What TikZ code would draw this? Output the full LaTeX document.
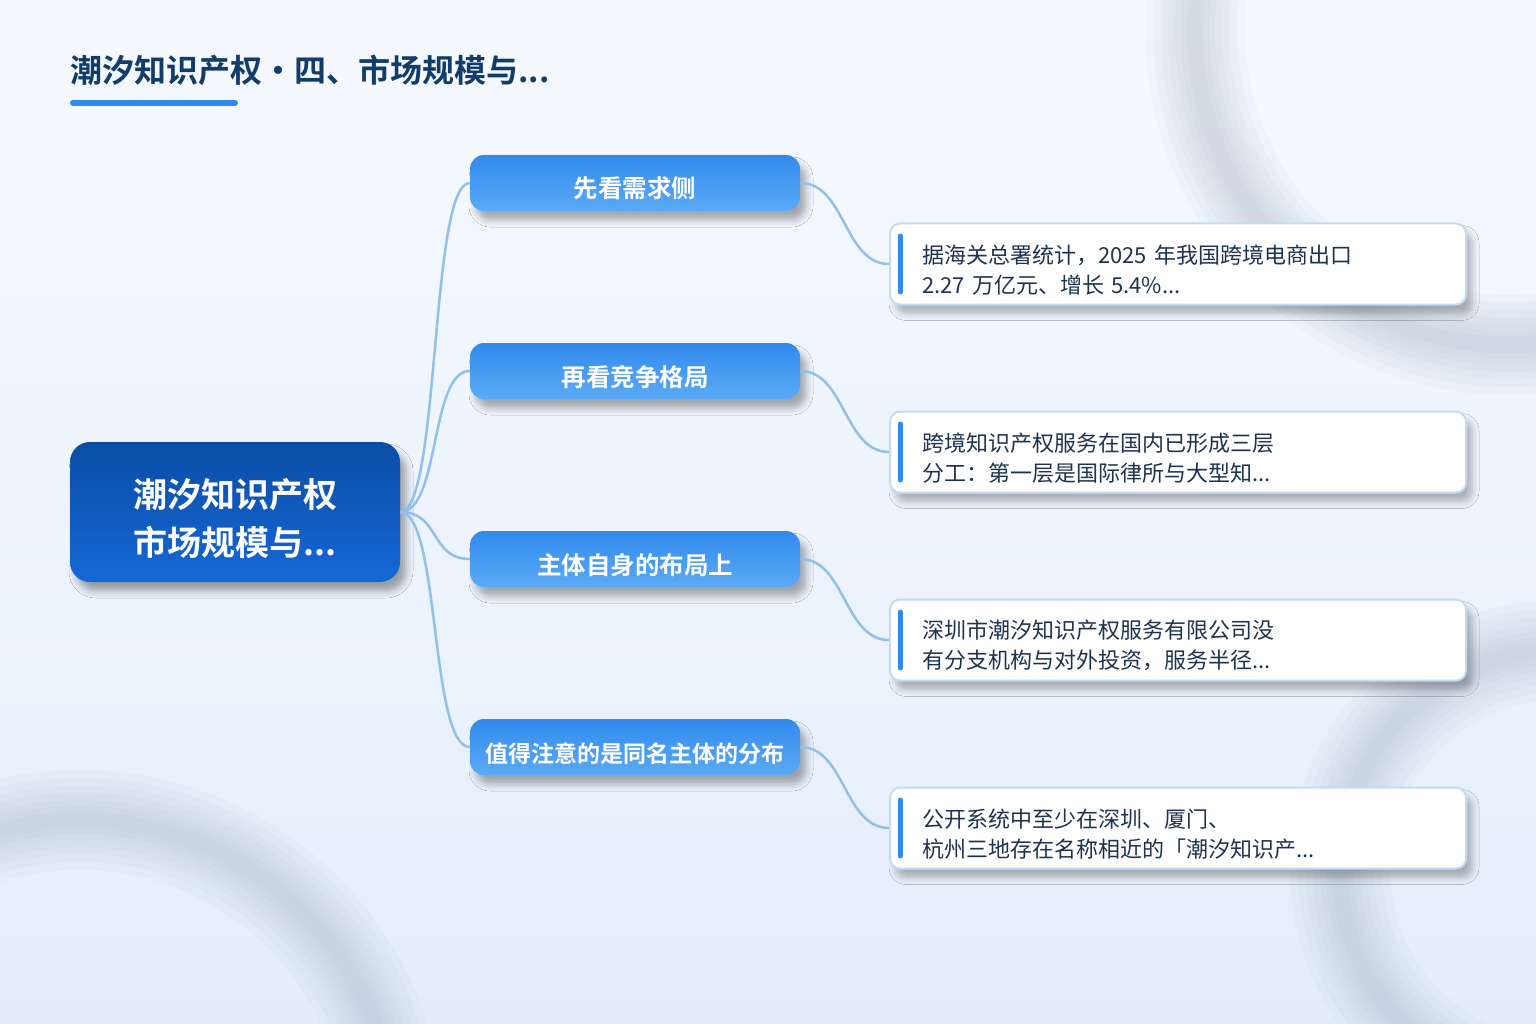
\documentclass[tikz,border=0pt]{standalone}
\usepackage{fontspec}
\setmainfont{Noto Sans CJK SC}[BoldFont={* Bold}]
\usepackage{tikz}
\usetikzlibrary{positioning,shadows.blur}

\definecolor{bgtop}{HTML}{F6FAFF}
\definecolor{bgbot}{HTML}{E4EEFB}
\definecolor{ringgray}{HTML}{9AA8BA}
\definecolor{titleblue}{HTML}{123D6B}
\definecolor{accentblue}{HTML}{2F8BEF}
\definecolor{roottop}{HTML}{0B4DA5}
\definecolor{rootbot}{HTML}{1568D6}
\definecolor{branchtop}{HTML}{318AEC}
\definecolor{branchbot}{HTML}{5BAAF6}
\definecolor{leafedge}{HTML}{C4DCF3}
\definecolor{leaftext}{HTML}{1E3350}
\definecolor{linkblue}{HTML}{93C0EA}

\begin{document}
\begin{tikzpicture}[
    x=1pt, y=-1pt,
    soft/.style={blur shadow={shadow xshift=6pt, shadow yshift=-9pt, shadow blur radius=7pt, shadow opacity=#1}},
    root/.style={rounded corners=20pt, top color=roottop, bottom color=rootbot,
      minimum width=330pt, minimum height=140pt, align=center, text=white,
      text height=90pt, font=\fontsize{34}{48}\selectfont\bfseries, soft=35},
    branch/.style={rounded corners=14pt, top color=branchtop, bottom color=branchbot,
      minimum width=330pt, minimum height=56pt, text=white,
      text height=32pt, text depth=2pt, soft=32},
    leaf/.style={rounded corners=10pt, fill=white, draw=leafedge, line width=2pt,
      minimum width=576pt, minimum height=81pt, text width=512pt, inner xsep=32pt,
      align=left, text=leaftext, text height=30pt,
      font=\fontsize{22}{30}\selectfont, soft=28},
    link/.style={draw=linkblue, line width=2.5pt},
    accent/.style={draw=accentblue, line width=5pt, line cap=round},
    ring/.style={draw=ringgray},
  ]
  % background
  \useasboundingbox (0,0) rectangle (1536,1024);
  \shade[top color=bgtop, bottom color=bgbot] (0,0) rectangle (1536,1024);
  \begin{scope}
    \clip (0,0) rectangle (1536,1024);
    \foreach \w in {100,84,68,54,40,28,16} {
      \draw[ring, line width=\w pt, opacity=0.06] (1510,30) circle[radius=315];
      \draw[ring, line width=\w pt, opacity=0.06] (80,1135) circle[radius=315];
      \draw[ring, line width=\w pt, opacity=0.06] (1560,870) circle[radius=220];
    }
  \end{scope}

  % title
  \node[anchor=west, inner sep=0pt, text=titleblue, font=\fontsize{32}{36}\selectfont\bfseries]
    (title) at (70,70) {潮汐知识产权・四、市场规模与...};
  \draw[accent, line width=6pt] (73,103) -- (235,103);

  \node[root] (root) at (235,512) {潮汐知识产权\\市场规模与...};

  \foreach \i/\y/\fs/\lab in {1/183/24.5/先看需求侧, 2/371/24.5/再看竞争格局,
      3/559/24.5/主体自身的布局上, 4/747/23/值得注意的是同名主体的分布}
    \node[branch, font=\fontsize{\fs}{30}\selectfont\bfseries] (b\i) at (635,\y) {\lab};

  \foreach \i/\y/\lab in {
      1/264/{据海关总署统计，2025 年我国跨境电商出口\\2.27 万亿元、增长 5.4\%...},
      2/452/{跨境知识产权服务在国内已形成三层\\分工：第一层是国际律所与大型知...},
      3/640/{深圳市潮汐知识产权服务有限公司没\\有分支机构与对外投资，服务半径...},
      4/828/{公开系统中至少在深圳、厦门、\\杭州三地存在名称相近的「潮汐知识产...}} {
    \node[leaf] (l\i) at (1178,\y) {\lab};
    \draw[accent] ([xshift=11pt, yshift=28pt]l\i.west) -- ([xshift=11pt, yshift=-28pt]l\i.west);
  }

  \foreach \i in {1,...,4} {
    \draw[link] (root.east) .. controls +(40,0) and +(-40,0) .. (b\i.west);
    \draw[link] (b\i.east) .. controls +(45,0) and +(-45,0) .. (l\i.west);
  }
\end{tikzpicture}
\end{document}
